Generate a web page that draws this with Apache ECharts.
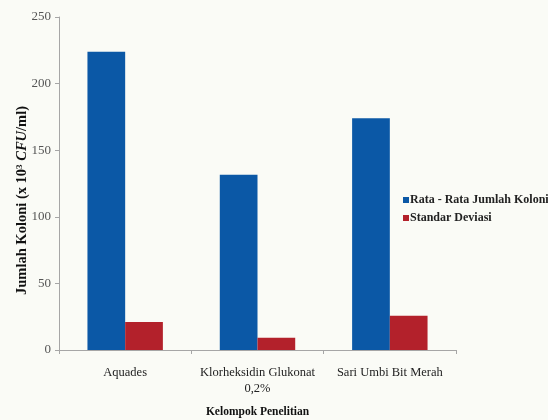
<!DOCTYPE html>
<html>
<head>
<meta charset="utf-8">
<script src="https://cdn.jsdelivr.net/npm/echarts@6/dist/echarts.min.js"></script>
<style>
html,body{margin:0;padding:0;background:#fafbf6;}
#chart{width:548px;height:420px;}
</style>
</head>
<body>
<div id="chart"></div>
<script>
const categories = ['Aquades', 'Klorheksidin Glukonat\n0,2%', 'Sari Umbi Bit Merah'];
const rataRata = [224, 131.5, 174];
const standarDeviasi = [21, 9.2, 25.7];
const yTicks = [0, 50, 100, 150, 200, 250];
const seriesNames = ['Rata - Rata Jumlah Koloni', 'Standar Deviasi'];

const chart = echarts.init(document.getElementById('chart'));
const serif = '"Liberation Serif", "DejaVu Serif", serif';
chart.setOption({
  backgroundColor: '#fafbf6',
  animation: false,
  grid: { left: 59, right: 92, top: 17, bottom: 70, outerBoundsMode: 'none', containLabel: false },
  legend: {
    orient: 'vertical',
    left: 398, top: 189,
    itemWidth: 6, itemHeight: 6, itemGap: 6,
    icon: 'rect',
    textStyle: { fontFamily: serif, fontSize: 12, color: '#222', fontWeight: 'bold', padding: [0,0,0,-4] },
    data: seriesNames
  },
  xAxis: {
    type: 'category',
    data: categories,
    name: 'Kelompok Penelitian',
    nameLocation: 'middle',
    nameGap: 56,
    nameTextStyle: { fontFamily: serif, fontSize: 11.5, fontWeight: 'bold', color: '#111' },
    axisLine: { lineStyle: { color: '#a6a6a6' } },
    axisTick: { show: true, length: 4, lineStyle: { color: '#a6a6a6' } },
    axisLabel: { interval: 0, hideOverlap: false, fontFamily: serif, fontSize: 12.5, color: '#222', margin: 15, lineHeight: 16 }
  },
  yAxis: {
    type: 'value',
    min: yTicks[0], max: yTicks[yTicks.length - 1], interval: 50,
    name: '{b|Jumlah Koloni (x 10}{sup|3}{i| CFU}{b|/ml)}',
    nameLocation: 'middle',
    nameGap: 29,
    nameMoveOverlap: false,
    nameTextStyle: {
      padding: [0, 34, 0, 0],
      rich: {
        b: { fontFamily: serif, fontSize: 14.5, fontWeight: 'bold', color: '#111' },
        i: { fontFamily: serif, fontSize: 14.5, fontWeight: 'bold', fontStyle: 'italic', color: '#111' },
        sup: { fontFamily: serif, fontSize: 9, fontWeight: 'bold', color: '#111', verticalAlign: 'top', padding: [0,0,6,0] }
      }
    },
    splitLine: { show: false },
    axisLine: { show: true, lineStyle: { color: '#a6a6a6' } },
    axisTick: { show: true, length: 4, lineStyle: { color: '#a6a6a6' } },
    axisLabel: { fontFamily: serif, fontSize: 13, color: '#555', margin: 8 }
  },
  series: [
    { name: seriesNames[0], type: 'bar', data: rataRata, barGap: '0%', barCategoryGap: '43%', itemStyle: { color: '#0b58a6' } },
    { name: seriesNames[1], type: 'bar', data: standarDeviasi, itemStyle: { color: '#b3212b' } }
  ]
});
</script>
</body>
</html>
